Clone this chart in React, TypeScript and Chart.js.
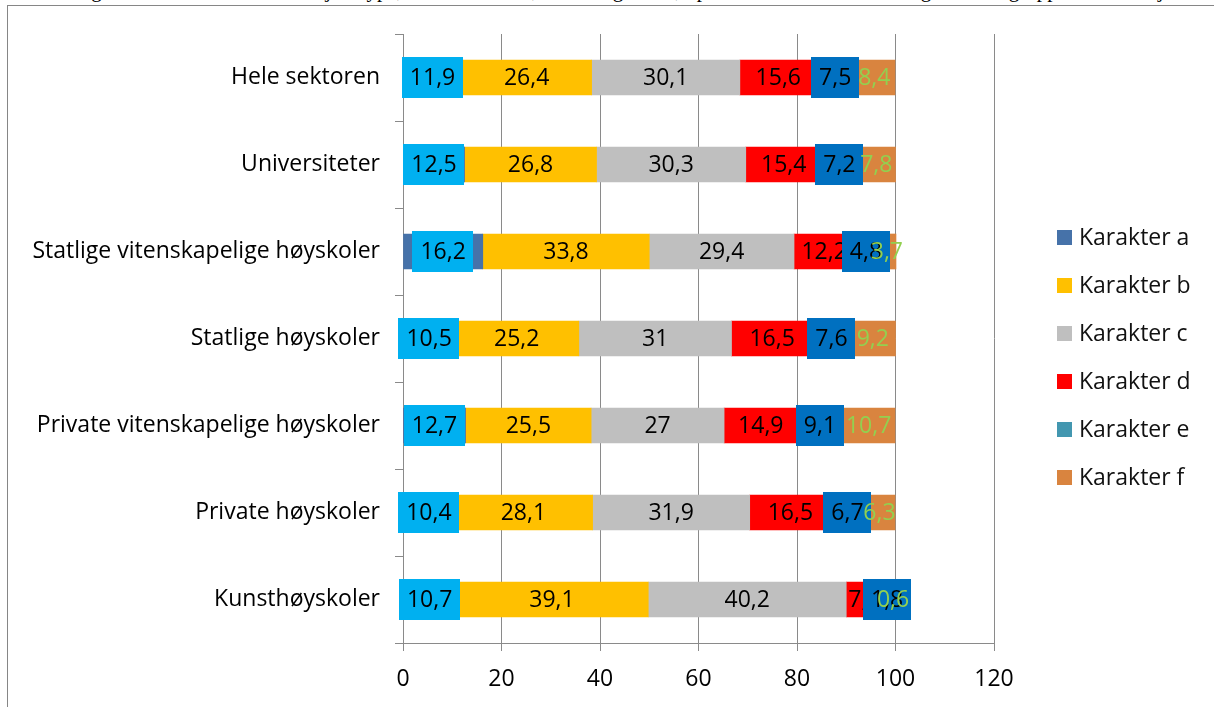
import React, { useEffect, useRef } from "react";
import { Chart, registerables } from "chart.js";

Chart.register(...registerables);

const categories = [
  "Hele sektoren",
  "Universiteter",
  "Statlige vitenskapelige høyskoler",
  "Statlige høyskoler",
  "Private vitenskapelige høyskoler",
  "Private høyskoler",
  "Kunsthøyskoler",
];

const seriesNames = ["Karakter a", "Karakter b", "Karakter c", "Karakter d", "Karakter e", "Karakter f"];

const karakterA = [11.9, 12.5, 16.2, 10.5, 12.7, 10.4, 10.7];
const karakterB = [26.4, 26.8, 33.8, 25.2, 25.5, 28.1, 39.1];
const karakterC = [30.1, 30.3, 29.4, 31, 27, 31.9, 40.2];
const karakterD = [15.6, 15.4, 12.2, 16.5, 14.9, 16.5, 7.4];
const karakterE = [7.5, 7.2, 4.8, 7.6, 9.1, 6.7, 1.8];
const karakterF = [8.4, 7.8, 3.7, 9.2, 10.7, 6.3, 0.6];

const xTickValues = [0, 20, 40, 60, 80, 100, 120];

const seriesColors = ["#4672A9", "#FFC000", "#BFBFBF", "#FF0000", "#4397B0", "#D9843F"];
const labelBoxColors: (string | null)[] = ["#00B0F0", null, null, null, "#0070C0", null];
const labelTextColors = ["#000000", "#000000", "#000000", "#000000", "#000000", "#92D050"];

const FONT = "'Open Sans', Lato, sans-serif";
const FSIZE = 23;
const GRID = "#8A8A8A";

const fmt = (v: number) => String(v).replace(".", ",");

const dataLabelPlugin = {
  id: "boxedLabels",
  afterDatasetsDraw(chart: any) {
    const ctx = chart.ctx;
    ctx.save();
    ctx.font = `${FSIZE}px ${FONT}`;
    ctx.textAlign = "center";
    ctx.textBaseline = "middle";
    chart.data.datasets.forEach((ds: any, i: number) => {
      const meta = chart.getDatasetMeta(i);
      meta.data.forEach((bar: any, j: number) => {
        const v = ds.data[j];
        const { x, y, base } = bar.getProps(["x", "y", "base"], true);
        const cx = (x + base) / 2;
        const text = fmt(v);
        const w = ctx.measureText(text).width;
        const box = labelBoxColors[i];
        if (box) {
          ctx.fillStyle = box;
          ctx.fillRect(Math.round(cx - w / 2 - 8), Math.round(y - 20.5), Math.round(w + 16), 41);
        }
        ctx.fillStyle = labelTextColors[i];
        ctx.fillText(text, cx, y + 1);
      });
    });
    ctx.restore();
  },
};

const legendPlugin = {
  id: "sideLegend",
  afterDraw(chart: any) {
    const ctx = chart.ctx;
    ctx.save();
    ctx.font = `${FSIZE}px ${FONT}`;
    ctx.textAlign = "left";
    ctx.textBaseline = "middle";
    chart.data.datasets.forEach((ds: any, i: number) => {
      const rowY = 237 + i * 48;
      ctx.fillStyle = ds.backgroundColor;
      ctx.fillRect(1057, Math.round(rowY - 7.5), 15, 15);
      ctx.fillStyle = "#111111";
      ctx.fillText(ds.label, 1079, rowY + 1);
    });
    ctx.restore();
  },
};

export default function App() {
  const canvasRef = useRef<HTMLCanvasElement | null>(null);

  useEffect(() => {
    const canvas = canvasRef.current;
    if (!canvas) return;
    const values = [karakterA, karakterB, karakterC, karakterD, karakterE, karakterF];
    const chart = new Chart(canvas, {
      type: "bar",
      data: {
        labels: categories,
        datasets: values.map((arr, i) => ({
          label: seriesNames[i],
          data: arr,
          backgroundColor: seriesColors[i],
          borderWidth: 0,
          barThickness: 35,
        })),
      },
      options: {
        indexAxis: "y",
        responsive: false,
        animation: false,
        devicePixelRatio: 1,
        layout: { padding: { top: 34, right: 220, left: 0, bottom: 0 } },
        plugins: {
          legend: { display: false },
          tooltip: { enabled: false },
          title: { display: false },
        },
        scales: {
          x: {
            stacked: true,
            min: 0,
            max: 120,
            afterBuildTicks: (s: any) => {
              s.ticks = xTickValues.map((v) => ({ value: v }));
            },
            ticks: {
              font: { family: FONT, size: FSIZE },
              color: "#000000",
              padding: 15,
              maxRotation: 0,
            },
            grid: { color: GRID, lineWidth: 1, tickLength: 8, drawTicks: true },
            border: { display: true, color: GRID },
            afterFit: (s: any) => {
              s.height = 64;
            },
          },
          y: {
            stacked: true,
            ticks: {
              font: { family: FONT, size: FSIZE },
              color: "#000000",
              padding: 15,
            },
            grid: { drawOnChartArea: false, drawTicks: true, tickLength: 8, color: GRID, offset: true },
            border: { display: true, color: GRID },
            afterFit: (s: any) => {
              s.width = 403;
            },
          },
        },
      },
      plugins: [dataLabelPlugin, legendPlugin],
    } as any);
    return () => chart.destroy();
  }, []);

  return (
    <div
      style={{
        position: "fixed",
        left: 0,
        top: 0,
        width: 1214,
        height: 707,
        overflow: "hidden",
        background: "#ffffff",
      }}
    >
      <div
        style={{
          position: "absolute",
          left: 20,
          top: -22,
          fontFamily: "'Liberation Serif', 'DejaVu Serif', serif",
          fontSize: 21,
          whiteSpace: "nowrap",
          color: "#000",
        }}
      >
        Fordeling av karakterer etter institusjonstype, alle eksamener, høsten og våren, i prosent for hele sektoren og for hver gruppe av institusjoner
      </div>
      <div
        style={{
          position: "absolute",
          left: 7,
          top: 5,
          width: 2000,
          height: 2000,
          borderTop: "1px solid #868686",
          borderLeft: "1px solid #868686",
        }}
      />
      <canvas
        ref={canvasRef}
        width={1214}
        height={707}
        style={{ position: "absolute", left: 0, top: 0, width: 1214, height: 707 }}
      />
    </div>
  );
}
